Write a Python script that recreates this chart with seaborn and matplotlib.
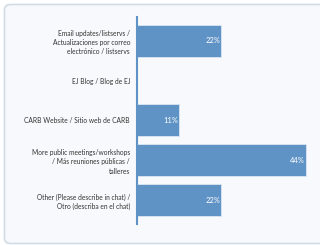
import matplotlib
matplotlib.use("Agg")
import matplotlib.pyplot as plt
from matplotlib.patches import FancyBboxPatch
import pandas as pd
import seaborn as sns

categories = [
    "Email updates/listservs /\nActualizaciones por correo\nelectrónico / listservs",
    "EJ Blog / Blog de EJ",
    "CARB Website / Sitio web de CARB",
    "More public meetings/workshops\n/ Más reuniones públicas /\ntalleres",
    "Other (Please describe in chat) /\nOtro (describa en el chat)",
]
percents = [22, 0, 11, 44, 22]
value_labels = ["22%", "", "11%", "44%", "22%"]

df = pd.DataFrame({"option": categories, "pct": percents})

sns.set_style("white")
plt.rcParams["font.family"] = ["Lato", "DejaVu Sans"]

fig = plt.figure(figsize=(3.2, 2.45), dpi=100)
fig.patch.set_facecolor("white")

# card background (runs off the right edge like the screenshot)
card = FancyBboxPatch((4.5 / 320, 1.5 / 245), 330 / 320, 239 / 245,
                      boxstyle="round,pad=0,rounding_size=0.02",
                      transform=fig.transFigure, facecolor="#f8f9fc",
                      edgecolor="#d3dbe6", linewidth=1.2, zorder=-10)
fig.patches.append(card)

ax = fig.add_axes([0.428, 0.086, 0.54, 0.845])
ax.set_facecolor("none")
ax.set_zorder(5)

bar_color = "#6093c5"
sns.barplot(data=df, y="option", x="pct", orient="h", color=bar_color,
            width=0.8, edgecolor="#dbe6f2", linewidth=0.6, ax=ax, saturation=1)

for i, (v, lab) in enumerate(zip(percents, value_labels)):
    if lab:
        ax.text(v - 0.3, i, lab, ha="right", va="center", color="white",
                fontsize=5.4)

ax.set_xlim(0, 45)
ax.set_ylim(4.6, -0.6)
ax.set_xlabel("")
ax.set_ylabel("")
ax.set_xticks([])
ax.tick_params(axis="y", length=0, pad=5, labelsize=4.8, labelcolor="#333333")
for lbl in ax.get_yticklabels():
    lbl.set_linespacing(1.4)

for s in ["top", "right", "bottom"]:
    ax.spines[s].set_visible(False)
ax.spines["left"].set_color(bar_color)
ax.spines["left"].set_linewidth(1.5)

fig.savefig("out.png", dpi=100)
